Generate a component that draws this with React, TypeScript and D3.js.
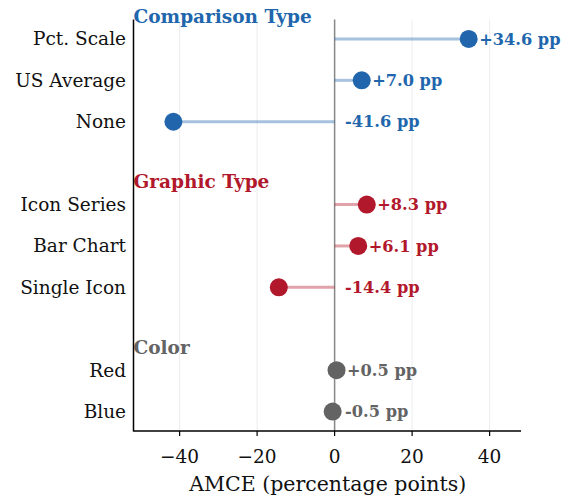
import React from "react";
import * as d3 from "d3";

const groups = ["Comparison Type", "Graphic Type", "Color"];
const groupColors = ["#2166ac", "#b2182b", "#636363"];
const labels = ["Pct. Scale", "US Average", "None", "Icon Series", "Bar Chart", "Single Icon", "Red", "Blue"];
const values = [34.6, 7.0, -41.6, 8.3, 6.1, -14.4, 0.5, -0.5];
const rowGroup = [0, 0, 0, 1, 1, 1, 2, 2];
const rowPos = [0, 1, 2, 4, 5, 6, 8, 9];
const headerPos = [-0.55, 3.45, 7.45];
const xTicks = [-40, -20, 0, 20, 40];

export default function App() {
  const W = 570, H = 497;
  const left = 133.5, right = 521, top = 19.5, bottom = 431;
  const x = d3.scaleLinear().domain([-51.9, 48.1]).range([left, right]);
  const y = d3.scaleLinear().domain([-0.47, 9.47]).range([top, bottom]);
  const font = "DejaVu Serif, serif";
  const fmt = (v: number) => (v >= 0 ? "+" : "") + v.toFixed(1) + " pp";
  return (
    <svg width={W} height={H} style={{ position: "absolute", left: 0, top: 0 }} fontFamily={font}>
      <rect width={W} height={H} fill="white" />
      {xTicks.map((t) => (
        <line key={"g" + t} x1={x(t)} x2={x(t)} y1={top} y2={bottom} stroke="#e8e8e8" strokeWidth={0.8} />
      ))}
      <line x1={x(0)} x2={x(0)} y1={top} y2={bottom} stroke="#888" strokeWidth={1.5} />
      {values.map((v, i) => (
        <g key={i}>
          <line x1={x(0)} x2={x(v)} y1={y(rowPos[i])} y2={y(rowPos[i])} stroke={groupColors[rowGroup[i]]} strokeOpacity={0.4} strokeWidth={3} />
          <circle cx={x(v)} cy={y(rowPos[i])} r={9} fill={groupColors[rowGroup[i]]} />
          <text x={x(Math.max(v, 0)) + 10.5} y={y(rowPos[i])} dy="0.35em" fontSize={16.2} fontWeight="bold" fill={groupColors[rowGroup[i]]}>{fmt(v)}</text>
          <text x={126} y={y(rowPos[i])} dy="0.35em" textAnchor="end" fontSize={18.5} fill="#111">{labels[i]}</text>
        </g>
      ))}
      {groups.map((g, i) => (
        <text key={g} x={left} y={y(headerPos[i])} dy="0.35em" fontSize={18.5} fontWeight="bold" fill={groupColors[i]}>{g}</text>
      ))}
      <line x1={left} x2={left} y1={top} y2={bottom + 0.6} stroke="#000" strokeWidth={1.5} />
      <line x1={left} x2={right} y1={bottom} y2={bottom} stroke="#000" strokeWidth={1.5} />
      {xTicks.map((t) => (
        <g key={"t" + t}>
          <line x1={x(t)} x2={x(t)} y1={bottom} y2={bottom + 5} stroke="#000" strokeWidth={1.2} />
          <text x={x(t)} y={bottom + 32} textAnchor="middle" fontSize={18.5} fill="#111">{t < 0 ? "\u2212" + Math.abs(t) : String(t)}</text>
        </g>
      ))}
      <text x={(left + right) / 2 + 0.5} y={491} textAnchor="middle" fontSize={20.5} fill="#111">AMCE (percentage points)</text>
    </svg>
  );
}
